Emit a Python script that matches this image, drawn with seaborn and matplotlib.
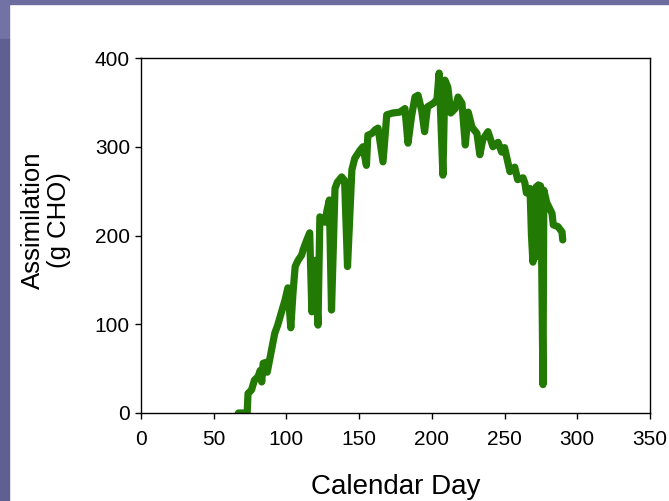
import matplotlib
matplotlib.use("Agg")
import matplotlib.pyplot as plt
import seaborn as sns
import pandas as pd
from matplotlib.patches import Rectangle

# ---- data ----
calendar_day = [67, 73, 73.6, 76, 78, 80.5, 82, 83, 84, 86, 86.8, 88.7, 90.8, 92, 94,
                97, 99, 101, 103, 104.5, 106, 108, 110.5, 111.5, 114, 116, 117.5, 119.6,
                121.7, 123, 126.5, 128, 129.5, 131, 133.4, 135, 138, 140, 142, 145, 147,
                150.6, 152.6, 155, 156, 158.8, 161, 163, 166.4, 169, 173, 178, 181.5,
                183.6, 186, 188.4, 190.5, 193, 195, 197, 201, 203.5, 205, 207.6, 209,
                211, 213, 216, 218, 220.7, 223, 225, 227.6, 231, 233, 235, 238.6, 242,
                245.5, 248, 250, 253.7, 257, 259, 262.7, 264, 265, 267.5, 268.5, 269.5,
                270.3, 271, 271.8, 272.5, 273.2, 274, 274.7, 275.4, 276.4, 277, 279,
                282.6, 283.5, 286.7, 289.5, 290]
assimilation = [0, 0, 22, 26, 37, 41, 48, 35, 56, 57, 46, 62, 80, 90, 99,
                116, 127, 141, 96, 135, 165, 172, 178, 184, 195, 203, 114, 172,
                99, 221, 215, 229, 240, 116, 253, 260, 266, 262, 165, 274, 287,
                296, 300, 279, 313, 315, 319, 321, 283, 336, 338, 339, 343,
                304, 334, 356, 358, 341, 317, 345, 349, 353, 383, 268, 375,
                367, 338, 343, 356, 349, 302, 339, 322, 315, 291, 308, 317, 300,
                305, 294, 299, 272, 277, 263, 265, 259, 248, 253, 200, 170,
                252, 175, 255, 180, 257, 185, 256, 190, 32, 251, 237,
                225, 212, 210, 204, 195]
x_ticks = [0, 50, 100, 150, 200, 250, 300, 350]
y_ticks = [0, 100, 200, 300, 400]

df = pd.DataFrame({"day": calendar_day, "assim": assimilation})

sns.set_theme(style="ticks")
plt.rcParams["font.family"] = ["Liberation Sans", "DejaVu Sans"]

fig = plt.figure(figsize=(6.69, 5.01), dpi=100)
fig.patch.set_facecolor("white")

# purple slide frame
W, H = 669.0, 501.0
fig.patches.append(Rectangle((0, 1 - 4 / H), 1, 4 / H, transform=fig.transFigure,
                             color="#6c6c9e", zorder=0))
fig.patches.append(Rectangle((0, 1 - 39 / H), 9 / W, 39 / H, transform=fig.transFigure,
                             color="#7272a4", zorder=0))
fig.patches.append(Rectangle((0, 0), 9 / W, 1 - 39 / H, transform=fig.transFigure,
                             color="#5f5f92", zorder=0))

ax = fig.add_axes([141 / W, 1 - 413 / H, 509 / W, 355 / H])
sns.lineplot(data=df, x="day", y="assim", sort=False, estimator=None, ax=ax,
             color="#227a05", linewidth=5.2,
             solid_capstyle="round", solid_joinstyle="round")

ax.set_xlim(0, 350)
ax.set_ylim(0, 400)
ax.set_xticks(x_ticks)
ax.set_yticks(y_ticks)
ax.set_xticklabels([str(t) for t in x_ticks])
ax.set_yticklabels([str(t) for t in y_ticks])
ax.tick_params(axis="both", labelsize=15, colors="black", direction="out",
               length=4, width=1)
ax.tick_params(axis="x", pad=8)
ax.tick_params(axis="y", pad=4)
for s in ax.spines.values():
    s.set_visible(True)
    s.set_color("black")
    s.set_linewidth(1)
ax.set_facecolor("white")

ax.set_xlabel("Calendar Day", fontsize=20, color="black")
ax.xaxis.set_label_coords(0.5, -0.208)
ax.xaxis.label.set_va("center")
ax.set_ylabel("Assimilation\n(g CHO)", fontsize=18.5, color="black", linespacing=1.1)
ax.yaxis.set_label_coords(-0.187, 0.544)
ax.yaxis.label.set_va("center")
ax.yaxis.label.set_ha("center")

fig.savefig("out.png", dpi=100)
